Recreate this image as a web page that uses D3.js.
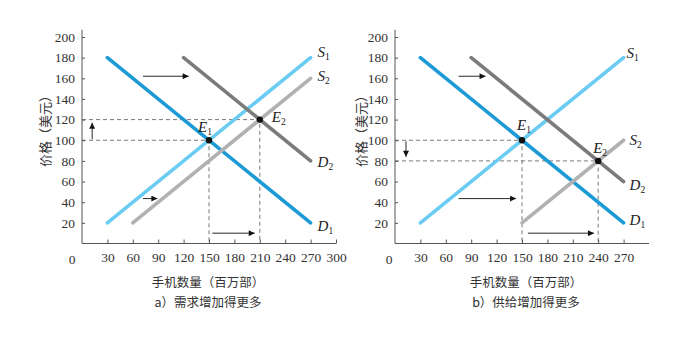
<!DOCTYPE html>
<html><head><meta charset="utf-8">
<script src="https://cdn.jsdelivr.net/npm/d3@7"></script>
<style>
body{margin:0;background:#fff;}
svg{display:block;}
</style></head>
<body>
<svg id="chart" width="680" height="340"></svg>
<script>
// ---------- data ----------
const yTicks = [20,40,60,80,100,120,140,160,180,200];
const xTicksA = [30,60,90,120,150,180,210,240,270,300];
const xTicksB = [30,60,90,120,150,180,210,240,270];
const curveNames = ["D1","S1","S2","D2"];
const curveColors = ["#1c9ad6","#6accf2","#b1b1b1","#7b7b7b"];
// [x1,y1,x2,y2] per curve (quantity, price)
const curvesA = [[30,180,270,20],[30,20,270,180],[60,20,270,160],[120,180,270,80]];
const curvesB = [[30,180,270,20],[30,20,270,180],[150,20,270,100],[90,180,270,60]];
const equilibriaA = [[150,100],[210,120]];
const equilibriaB = [[150,100],[240,80]];
// shift arrows [x1,y1,x2,y2]
const arrowsA = [[72,162,126,162],[72,43.5,89,43.5],[12,101,12,117],[154,10,204,10]];
const arrowsB = [[75,162,107,162],[75,43.5,143,43.5],[13,99,13,84],[157,10,235,10]];
const xTitle = "手机数量（百万部）";
const yTitle = "价格（美元）";
const captionA = "a）需求增加得更多";
const captionB = "b）供给增加得更多";

// ---------- drawing ----------
const svg = d3.select("#chart");
const serif = "'Liberation Serif','DejaVu Serif',serif";
const cjk = "'Noto Sans CJK SC','Noto Sans',sans-serif";

svg.append("defs").append("marker")
  .attr("id","ah").attr("viewBox","0 0 10 10").attr("refX",10).attr("refY",5)
  .attr("markerWidth",8).attr("markerHeight",6).attr("markerUnits","userSpaceOnUse")
  .attr("orient","auto")
  .append("path").attr("d","M0,0L10,5L0,10Z").attr("fill","#111");

function panel(opt){
  const g = svg.append("g");
  const x = d3.scaleLinear().domain([0,300]).range([opt.x0, opt.x0+254]);
  const y = d3.scaleLinear().domain([0,200]).range([243.5, 37]);

  // axes
  const xa = g.append("g").attr("transform",`translate(0,${y(0)})`)
    .call(d3.axisBottom(x).tickValues(opt.xTicks).tickSizeInner(-4).tickSizeOuter(0).tickPadding(9));
  xa.select(".domain").attr("d",`M${x(0)},0H${x(300)}`);
  const ya = g.append("g").attr("transform",`translate(${x(0)},0)`)
    .call(d3.axisLeft(y).tickValues(yTicks).tickSizeInner(-3).tickSizeOuter(0).tickPadding(9));
  ya.select(".domain").attr("d",`M0,${y(0)}V${y(207)}`);
  [xa,ya].forEach(a=>{
    a.attr("font-family",serif).attr("font-size",13.5);
    a.select(".domain").attr("stroke","#555").attr("stroke-width",1);
    a.selectAll(".tick line").attr("stroke","#555");
    a.selectAll("text").attr("font-family",serif).attr("font-size",13.5).attr("fill","#333");
  });
  ya.selectAll("text").attr("x",-7);
  g.append("text").attr("x",x(0)+opt.zeroDx).attr("y",y(0)+20).attr("text-anchor","middle")
    .attr("font-family",serif).attr("font-size",13.5).attr("fill","#333").text("0");

  // dashed guides
  opt.eq.forEach(([q,p])=>{
    g.append("path").attr("d",`M${x(0)},${y(p)}H${x(q)}V${y(0)}`)
      .attr("fill","none").attr("stroke","#555").attr("stroke-width",0.8).attr("stroke-dasharray","4,3");
  });

  // curves
  opt.curves.forEach((c,i)=>{
    g.append("line").attr("x1",x(c[0])).attr("y1",y(c[1])).attr("x2",x(c[2])).attr("y2",y(c[3]))
      .attr("stroke",curveColors[i]).attr("stroke-width",3.6).attr("stroke-linecap","round");
  });

  // arrows
  opt.arrows.forEach(a=>{
    g.append("line").attr("x1",x(a[0])).attr("y1",y(a[1])).attr("x2",x(a[2])).attr("y2",y(a[3]))
      .attr("stroke","#111").attr("stroke-width",0.9).attr("marker-end","url(#ah)");
  });

  // equilibrium points
  opt.eq.forEach(([q,p])=>{
    g.append("circle").attr("cx",x(q)).attr("cy",y(p)).attr("r",3.2).attr("fill","#111");
  });

  function label(px,py,letter,sub){
    const t = g.append("text").attr("x",px).attr("y",py)
      .attr("font-family",serif).attr("font-size",15).attr("fill","#222");
    t.append("tspan").attr("font-style","italic").text(letter);
    t.append("tspan").attr("font-size",9.5).attr("dy",3).text(sub);
  }
  // curve labels
  opt.curves.forEach((c,i)=>{
    const off = opt.curveOff[i];
    label(x(c[2])+off[0], y(c[3])+off[1], curveNames[i][0], curveNames[i][1]);
  });
  opt.eq.forEach(([q,p],i)=>{
    const off = opt.eqOff[i];
    label(x(q)+off[0], y(p)+off[1], "E", String(i+1));
  });

  // titles
  const cx = opt.titleX;
  g.append("text").attr("x",cx).attr("y",287).attr("text-anchor","middle")
    .attr("font-family",cjk).attr("font-size",12.5).attr("fill","#333").text(xTitle);
  g.append("text").attr("x",cx).attr("y",307).attr("text-anchor","middle")
    .attr("font-family",cjk).attr("font-size",12.5).attr("fill","#333").text(opt.caption);
  g.append("text").attr("transform",`translate(${opt.yTitleX},128) rotate(-90)`)
    .attr("text-anchor","middle").attr("dy","0.36em")
    .attr("font-family",cjk).attr("font-size",13).attr("fill","#333").text(yTitle);
}

panel({x0:82, xTicks:xTicksA, curves:curvesA, eq:equilibriaA, arrows:arrowsA,
  zeroDx:-10, titleX:208, yTitleX:45, caption:captionA,
  curveOff:[[7,8],[7,-1],[7,3],[7,6]], eqOff:[[-11,-8],[12,2]]});
panel({x0:395, xTicks:xTicksB, curves:curvesB, eq:equilibriaB, arrows:arrowsB,
  zeroDx:-6, titleX:526, yTitleX:361, caption:captionB,
  curveOff:[[6,2],[3,0],[6,5],[6,8]], eqOff:[[-5,-10],[-5,-8]]});
</script>
</body></html>
